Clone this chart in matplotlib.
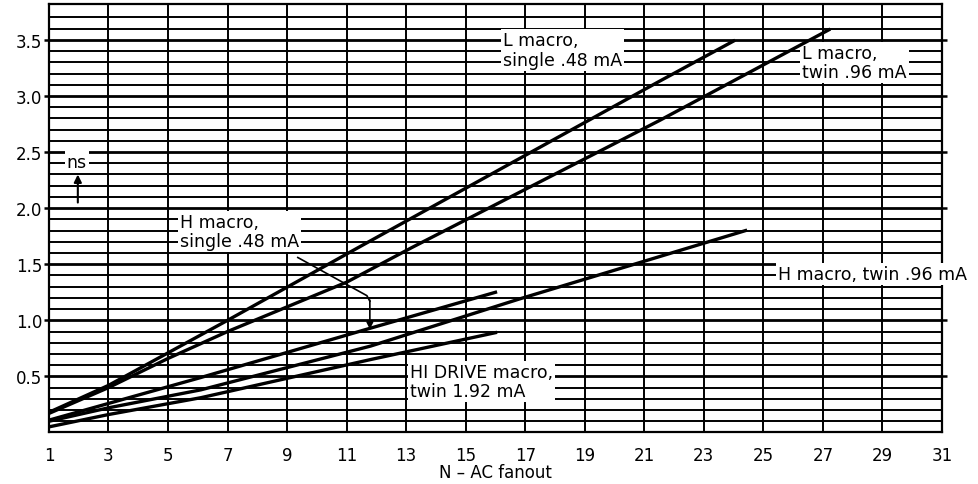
import numpy as np
import matplotlib.pyplot as plt

# fanout (x) and delay in ns (y)
l_single_x = [1, 3, 7, 11.4, 21.5, 24.0]
l_single_y = [0.18, 0.42, 1.0, 1.65, 3.13, 3.49]

l_twin_x = [1, 3, 5, 7, 11, 13.2, 21.5, 27.2]
l_twin_y = [0.17, 0.40, 0.66, 0.90, 1.34, 1.65, 2.78, 3.59]

h_single_x = [1, 6.1, 11.8, 16.0]
h_single_y = [0.11, 0.49, 0.93, 1.25]

h_twin_x = [1, 3, 6.1, 11.8, 16.8, 24.4]
h_twin_y = [0.10, 0.22, 0.38, 0.77, 1.19, 1.80]

hi_drive_x = [1, 3, 6.1, 11.8, 16.0]
hi_drive_y = [0.05, 0.16, 0.31, 0.65, 0.89]

x_ticks = list(range(1, 32, 2))
y_ticks = [0.5, 1.0, 1.5, 2.0, 2.5, 3.0, 3.5]

fig = plt.figure(figsize=(9.79, 4.85), dpi=100)
ax = fig.add_axes([0.05, 0.1062, 0.9122, 0.8835])

ax.set_xlim(1, 31)
ax.set_ylim(0, 3.82)

ax.set_xticks(x_ticks)
ax.set_xticklabels([str(v) for v in x_ticks])
ax.set_yticks(y_ticks)
ax.set_yticklabels(["%.1f" % v for v in y_ticks])
ax.set_yticks(np.arange(0.1, 3.75, 0.1), minor=True)

ax.tick_params(axis="x", which="major", length=0, pad=10, labelsize=12)
ax.tick_params(axis="y", which="major", direction="out", length=3.5, width=1.8,
               right=True, pad=1.5, labelsize=12)
ax.tick_params(axis="y", which="minor", length=0)

ax.grid(which="major", axis="x", color="black", lw=1.4)
ax.grid(which="major", axis="y", color="black", lw=2.0)
ax.grid(which="minor", axis="y", color="black", lw=1.4)
for s in ax.spines.values():
    s.set_linewidth(1.6)

lw = 2.4
ax.plot(l_single_x, l_single_y, color="black", lw=lw, zorder=4)
ax.plot(l_twin_x, l_twin_y, color="black", lw=lw, zorder=4)
ax.plot(h_single_x, h_single_y, color="black", lw=lw, zorder=4)
ax.plot(h_twin_x, h_twin_y, color="black", lw=lw, zorder=4)
ax.plot(hi_drive_x, hi_drive_y, color="black", lw=lw, zorder=4)

box = dict(facecolor="white", edgecolor="none", pad=1.5)
fs = 12.5
ax.text(16.25, 3.41, "L macro,\nsingle .48 mA", fontsize=fs, ha="left", va="center",
        bbox=box, zorder=3, linespacing=1.1)
ax.text(26.3, 3.30, "L macro,\ntwin .96 mA", fontsize=fs, ha="left", va="center",
        bbox=box, zorder=3, linespacing=1.1)
ax.text(25.5, 1.41, "H macro, twin .96 mA", fontsize=fs, ha="left", va="center",
        bbox=box, zorder=3)
ax.text(5.4, 1.79, "H macro,\nsingle .48 mA", fontsize=fs, ha="left", va="center",
        bbox=box, zorder=3, linespacing=1.1)
ax.text(13.13, 0.455, "HI DRIVE macro,\ntwin 1.92 mA", fontsize=fs, ha="left", va="center",
        bbox=box, zorder=3, linespacing=1.1)
ax.text(1.6, 2.41, "ns", fontsize=fs, ha="left", va="center", bbox=box, zorder=3)

# leader from the H single label to its line
ax.plot([9.36, 11.68, 11.78], [1.56, 1.22, 1.17], color="black", lw=1.2, zorder=5)
ax.annotate("", xy=(11.78, 0.92), xytext=(11.78, 1.18),
            arrowprops=dict(arrowstyle="-|>", color="black", lw=1.2,
                            mutation_scale=10, shrinkA=0, shrinkB=0), zorder=5)
ax.annotate("", xy=(1.97, 2.30), xytext=(1.97, 2.05),
            arrowprops=dict(arrowstyle="-|>", color="black", lw=1.5,
                            mutation_scale=11, shrinkA=0, shrinkB=0), zorder=5)

ax.set_xlabel("N – AC fanout", fontsize=12, labelpad=-1)

fig.savefig("out.png", dpi=100)
